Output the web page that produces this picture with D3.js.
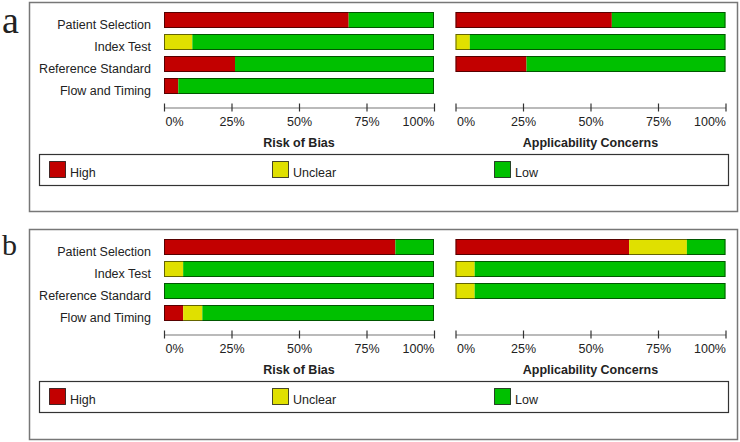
<!DOCTYPE html>
<html>
<head>
<meta charset="utf-8">
<script src="https://cdn.jsdelivr.net/npm/d3@7"></script>
<style>
  html, body { margin: 0; padding: 0; background: #fff; }
  svg { display: block; }
  text { font-family: "Liberation Sans", Arial, sans-serif; fill: #222; }
</style>
</head>
<body>
<svg id="chart" width="740" height="442"></svg>
<script>
// ---- Data ----
const domains = ["Patient Selection", "Index Test", "Reference Standard", "Flow and Timing"];
const appDomains = ["Patient Selection", "Index Test", "Reference Standard"];
const levels = ["High", "Unclear", "Low"];
const levelColors = ["#C20000", "#E0E000", "#00C000"];
const tickValues = [0, 25, 50, 75, 100];
const panelLetters = ["a", "b"];
const axisTitles = ["Risk of Bias", "Applicability Concerns"];

// Panel a (percent of studies)
const aRiskHigh    = [68.4, 0,    26.3, 5.3];
const aRiskUnclear = [0,    10.5, 0,    0];
const aRiskLow     = [31.6, 89.5, 73.7, 94.7];
const aAppHigh     = [57.9, 0,    26.3];
const aAppUnclear  = [0,    5.3,  0];
const aAppLow      = [42.1, 94.7, 73.7];

// Panel b (percent of studies)
const bRiskHigh    = [85.7, 0,    0,   7.1];
const bRiskUnclear = [0,    7.1,  0,   7.1];
const bRiskLow     = [14.3, 92.9, 100, 85.8];
const bAppHigh     = [64.3, 0,    0];
const bAppUnclear  = [21.4, 7.1,  7.1];
const bAppLow      = [14.3, 92.9, 92.9];

const panels = [
  { letter: panelLetters[0], top: 0,
    risk: [aRiskHigh, aRiskUnclear, aRiskLow],
    app:  [aAppHigh, aAppUnclear, aAppLow] },
  { letter: panelLetters[1], top: 227,
    risk: [bRiskHigh, bRiskUnclear, bRiskLow],
    app:  [bAppHigh, bAppUnclear, bAppLow] }
];

const svg = d3.select("#chart");

const xRisk = d3.scaleLinear().domain([0, 100]).range([164, 434]);
const xApp  = d3.scaleLinear().domain([0, 100]).range([455.5, 725.5]);
const y = d3.scaleBand().domain(domains).range([9, 97]).paddingInner(6 / 22).paddingOuter(3 / 22);

function drawBars(g, x, cats, series) {
  const rows = cats.map((c, i) => {
    let acc = 0;
    return levels.map((lv, k) => {
      const v = series[k][i];
      const seg = { cat: c, level: k, x0: acc, x1: acc + v };
      acc += v;
      return seg;
    });
  });
  const rowG = g.selectAll("g.row").data(rows).join("g").attr("class", "row");
  rowG.selectAll("rect.seg")
    .data(d => d.filter(s => s.x1 > s.x0))
    .join("rect")
    .attr("class", "seg")
    .attr("x", d => x(d.x0))
    .attr("width", d => x(d.x1) - x(d.x0))
    .attr("y", d => y(d.cat))
    .attr("height", y.bandwidth())
    .attr("fill", d => levelColors[d.level]);
  g.selectAll("rect.outline").data(cats).join("rect")
    .attr("class", "outline")
    .attr("x", x(0) + 0.5)
    .attr("width", x(100) - x(0) - 1)
    .attr("y", d => y(d) + 0.5)
    .attr("height", y.bandwidth() - 1)
    .attr("fill", "none")
    .attr("stroke", "rgba(0,0,0,0.55)")
    .attr("stroke-width", 1);
}

function drawAxis(g, x, title) {
  const ax = d3.axisBottom(x).tickValues(tickValues).tickFormat(d => d + "%").tickSizeOuter(0);
  const a = g.append("g").attr("transform", "translate(0,107.5)").call(ax);
  a.select(".domain").attr("stroke", "#777").attr("stroke-width", 1.2);
  a.selectAll(".tick line").attr("y1", -4).attr("y2", 4).attr("stroke", "#333").attr("stroke-width", 1.2);
  a.selectAll(".tick text")
    .attr("y", 18.5).attr("dy", null)
    .attr("font-size", "12.5px")
    .attr("font-family", "Liberation Sans, Arial, sans-serif")
    .attr("fill", "#222")
    .attr("text-anchor", (d, i) => i === 0 ? "start" : (i === tickValues.length - 1 ? "end" : "middle"));
  a.selectAll(".tick").filter((d, i) => i === 0).select("text").attr("x", 1);
  g.append("text")
    .attr("x", (x.range()[0] + x.range()[1]) / 2)
    .attr("y", 146.5)
    .attr("text-anchor", "middle")
    .attr("font-weight", "bold")
    .attr("font-size", "12.5px")
    .attr("fill", "#333")
    .text(title);
}

panels.forEach((p, pi) => {
  const g = svg.append("g").attr("transform", `translate(0,${p.top})`);

  // outer frame
  g.append("rect")
    .attr("x", 29.5).attr("y", pi === 0 ? 2.5 : 2.5)
    .attr("width", 708).attr("height", pi === 0 ? 209 : 210)
    .attr("fill", "none").attr("stroke", "#777").attr("stroke-width", 1.5);

  // panel letter
  g.append("text")
    .attr("x", 2).attr("y", pi === 0 ? 33 : 28)
    .style("font-family", "'Liberation Serif', 'DejaVu Serif', serif")
    .attr("font-size", pi === 0 ? "38px" : "30px")
    .attr("fill", "#111")
    .text(p.letter);

  // category labels
  g.selectAll("text.cat").data(domains).join("text")
    .attr("class", "cat")
    .attr("x", 151)
    .attr("y", d => y(d) + y.bandwidth() / 2 + 9)
    .attr("text-anchor", "end")
    .attr("font-size", "12.5px")
    .attr("fill", "#333")
    .text(d => d);

  drawBars(g.append("g"), xRisk, domains, p.risk);
  drawBars(g.append("g"), xApp, appDomains, p.app);
  drawAxis(g, xRisk, axisTitles[0]);
  drawAxis(g, xApp, axisTitles[1]);

  // legend
  g.append("rect")
    .attr("x", 39.5).attr("y", 154.5).attr("width", 689).attr("height", 31)
    .attr("fill", "#fff").attr("stroke", "#333").attr("stroke-width", 1.2);
  const legX = [49, 272, 494];
  const lg = g.selectAll("g.leg").data(levels).join("g").attr("class", "leg")
    .attr("transform", (d, i) => `translate(${legX[i]},161)`);
  lg.append("rect")
    .attr("x", 0.5).attr("y", 0.5).attr("width", 16).attr("height", 16)
    .attr("fill", (d, i) => levelColors[i])
    .attr("stroke", "rgba(0,0,0,0.7)").attr("stroke-width", 1);
  lg.append("text")
    .attr("x", 21).attr("y", 15.5)
    .attr("font-size", "12.5px")
    .attr("fill", "#222")
    .text(d => d);
});
</script>
</body>
</html>
